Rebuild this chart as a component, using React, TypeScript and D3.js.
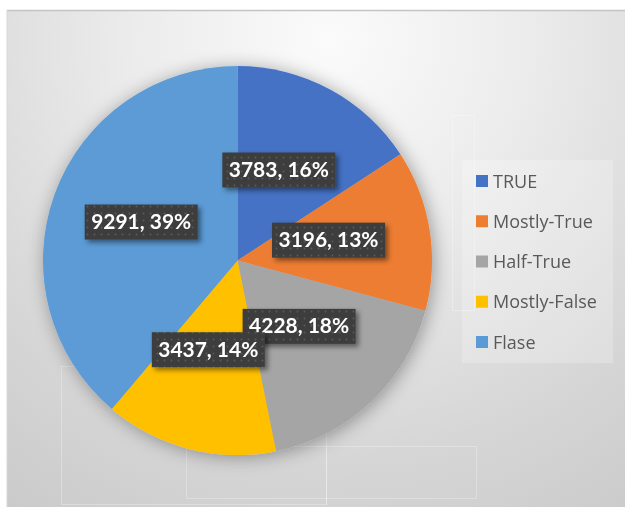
import React from "react";
import * as d3 from "d3";

const categories = ["TRUE", "Mostly-True", "Half-True", "Mostly-False", "Flase"];
const values = [3783, 3196, 4228, 3437, 9291];
const percentLabels = ["16%", "13%", "18%", "14%", "39%"];
const colors = ["#4472C4", "#ED7D31", "#A5A5A5", "#FFC000", "#5B9BD5"];

const W = 625;
const H = 507;
const cx = 237.5;
const cy = 260.5;
const R = 194.5;

export default function App() {
  const pie = d3
    .pie<number>()
    .sort(null)
    .value((d) => d)
    .startAngle(0)
    .endAngle(2 * Math.PI);
  const arcs = pie(values);
  const arc = d3.arc<d3.PieArcDatum<number>>().innerRadius(0).outerRadius(R);
  const labelArc = d3
    .arc<d3.PieArcDatum<number>>()
    .innerRadius(R * 0.5)
    .outerRadius(R * 0.5);

  const legendY = d3
    .scalePoint<string>()
    .domain(categories)
    .range([181, 342]);

  const boxW = 113;
  const boxH = 35;
  const labelShiftX = -5;
  const labelShiftY = -5;

  return (
    <svg
      width={W}
      height={H}
      style={{ position: "absolute", left: 0, top: 0 }}
      xmlns="http://www.w3.org/2000/svg"
    >
      <defs>
        <radialGradient
          id="bg"
          gradientUnits="userSpaceOnUse"
          cx={330}
          cy={40}
          r={560}
        >
          <stop offset="0" stopColor="#fbfbfb" />
          <stop offset="0.35" stopColor="#ececec" />
          <stop offset="0.75" stopColor="#d6d6d6" />
          <stop offset="1" stopColor="#cbcbcb" />
        </radialGradient>
        <filter id="pieShadow" x="-20%" y="-20%" width="140%" height="140%">
          <feDropShadow dx="2" dy="2" stdDeviation="9" floodColor="#000" floodOpacity="0.35" />
        </filter>
        <filter id="boxShadow" x="-20%" y="-30%" width="150%" height="170%">
          <feDropShadow dx="3" dy="3" stdDeviation="2.5" floodColor="#000" floodOpacity="0.45" />
        </filter>
        <pattern id="dots" width="7" height="7" patternUnits="userSpaceOnUse">
          <rect width="7" height="7" fill="#3d3d3d" />
          <circle cx="3.5" cy="3.5" r="0.9" fill="#5a5a5a" />
        </pattern>
      </defs>

      <rect x={0} y={0} width={W} height={H} fill="#ffffff" />
      <rect x={7} y={10} width={W - 7} height={H - 10} fill="url(#bg)" />
      <line x1={7} y1={10.5} x2={W} y2={10.5} stroke="#c4c4c4" strokeWidth={1.5} />
      <line x1={7} y1={10} x2={7} y2={H} stroke="#d8d8d8" strokeWidth={1} />

      {/* faint background rectangles */}
      <g fill="none" stroke="#ffffff" strokeOpacity={0.28} strokeWidth={1}>
        <rect x={61.5} y={366.5} width={265} height={138} />
        <rect x={186.5} y={446.5} width={290} height={52} />
        <rect x={452.5} y={115.5} width={22} height={195} />
        <line x1={326.5} y1={446} x2={326.5} y2={505} />
      </g>

      {/* legend background */}
      <rect x={462} y={160} width={151} height={203} fill="#ffffff" fillOpacity={0.22} />

      <g filter="url(#pieShadow)">
        {arcs.map((a, i) => (
          <path
            key={categories[i]}
            d={arc(a) || ""}
            transform={`translate(${cx},${cy})`}
            fill={colors[i]}
          />
        ))}
      </g>

      {arcs.map((a, i) => {
        const [lx, ly] = labelArc.centroid(a);
        const x = cx + lx + labelShiftX;
        const y = cy + ly + labelShiftY;
        return (
          <g key={"lbl" + i}>
            <rect
              x={x - boxW / 2}
              y={y - boxH / 2}
              width={boxW}
              height={boxH}
              fill="url(#dots)"
              filter="url(#boxShadow)"
            />
            <text
              x={x}
              y={y + 7}
              textAnchor="middle"
              fill="#ffffff"
              fontFamily="Lato, 'Open Sans', sans-serif"
              fontWeight="bold"
              fontSize="20px"
              textLength={100}
              lengthAdjust="spacingAndGlyphs"
            >
              {`${values[i]}, ${percentLabels[i]}`}
            </text>
          </g>
        );
      })}

      {categories.map((c, i) => {
        const y = legendY(c) as number;
        return (
          <g key={"leg" + c}>
            <rect x={476} y={y - 6} width={12} height={12} fill={colors[i]} />
            <text
              x={493}
              y={y + 6.5}
              fill="#595959"
              fontFamily="'Open Sans', sans-serif"
              fontSize="18px"
            >
              {c}
            </text>
          </g>
        );
      })}
    </svg>
  );
}
